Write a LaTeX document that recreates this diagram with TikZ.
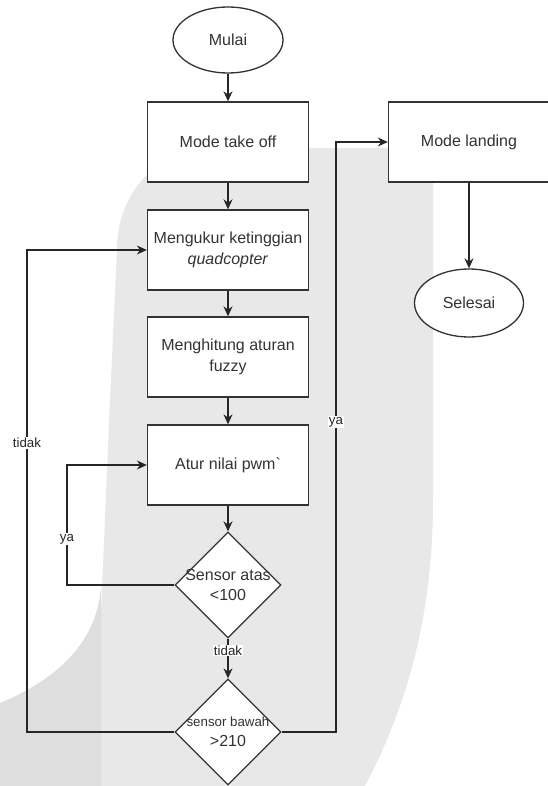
\documentclass[tikz,border=0pt]{standalone}
\usepackage{fontspec}
\setmainfont{Liberation Sans}[Ligatures=TeXOff]
\usetikzlibrary{arrows.meta,shapes.geometric}

\begin{document}
\begin{tikzpicture}[x=1pt,y=-1pt,>={Stealth[length=10pt,width=9pt]},line width=1.3pt,
 prc/.style={draw=black!80,fill=white,rectangle,minimum width=161pt,minimum height=80pt,inner sep=0pt,text=black!80,font=\fontsize{16}{21}\selectfont,align=center},
 dec/.style={draw=black!80,fill=white,diamond,minimum width=106pt,minimum height=106pt,inner sep=0pt},
 dtx/.style={inner sep=0pt,text=black!80,font=\fontsize{16}{20}\selectfont,align=center},
 term/.style={draw=black!80,fill=white,ellipse,minimum width=110pt,minimum height=66pt,inner sep=0pt,text=black!80,font=\fontsize{16}{21}\selectfont},
 cn/.style={->,draw=black!85},
 lb/.style={fill=white,inner sep=1pt,text=black!85,font=\fontsize{13.3}{16}\selectfont},
 wm/.style={fill=black!9}, wmd/.style={fill=black!13}]
\useasboundingbox (0,0) rectangle (548,786);
\clip (0,0) rectangle (548,786);
\fill[wm] (101,786) -- (101,613) -- (110,400) -- (117,250) .. controls (117,190) and (160,148) .. (215,148) -- (433,148) -- (433,500) .. controls (433,620) and (405,710) .. (365,786) -- cycle;
\fill[wmd] (0,786) -- (0,703) .. controls (60,678) and (98,640) .. (101,585) -- (101,786) -- cycle;
\node[term] (mulai) at (228,40) {Mulai};
\node[prc] (takeoff) at (228,142) {Mode take off};
\node[prc] (ukur) at (228,250) {Mengukur ketinggian\\\textit{quadcopter}};
\node[prc] (hitung) at (228,357) {Menghitung aturan\\fuzzy};
\node[prc] (atur) at (228,465) {Atur nilai pwm`};
\node[dec] (atas) at (228,585) {}; \node[dtx] at (atas) {Sensor atas\\<100};
\node[dec] (bawah) at (228,732) {}; \node[dtx] at (bawah) {{\fontsize{13.3}{16}\selectfont sensor bawah}\\>210};
\node[prc] (landing) at (469,142) {Mode landing};
\node[term,minimum width=109pt,minimum height=68pt] (selesai) at (469,303) {Selesai};
\coordinate (kiri) at (27,0); \coordinate (tengah) at (67,0); \coordinate (kanan) at (336,0);
\draw[cn] (mulai) -- (takeoff); \draw[cn] (takeoff) -- (ukur);
\draw[cn] (ukur) -- (hitung); \draw[cn] (hitung) -- (atur);
\draw[cn] (atur) -- (atas); \draw[cn] (atas) -- node[lb,pos=0.3] {tidak} (bawah);
\draw[cn] (atas.west) -- (atas.west -| tengah) -- node[lb,pos=0.38] {ya} (atur.west -| tengah) -- (atur.west);
\draw[cn] (bawah.west) -- (bawah.west -| kiri) -- node[lb,pos=0.6] {tidak} (ukur.west -| kiri) -- (ukur.west);
\draw[cn] (bawah.east) -- (bawah.east -| kanan) -- node[lb,pos=0.525] {ya} (landing.west -| kanan) -- (landing.west);
\draw[cn] (landing) -- (selesai);
\end{tikzpicture}
\end{document}
